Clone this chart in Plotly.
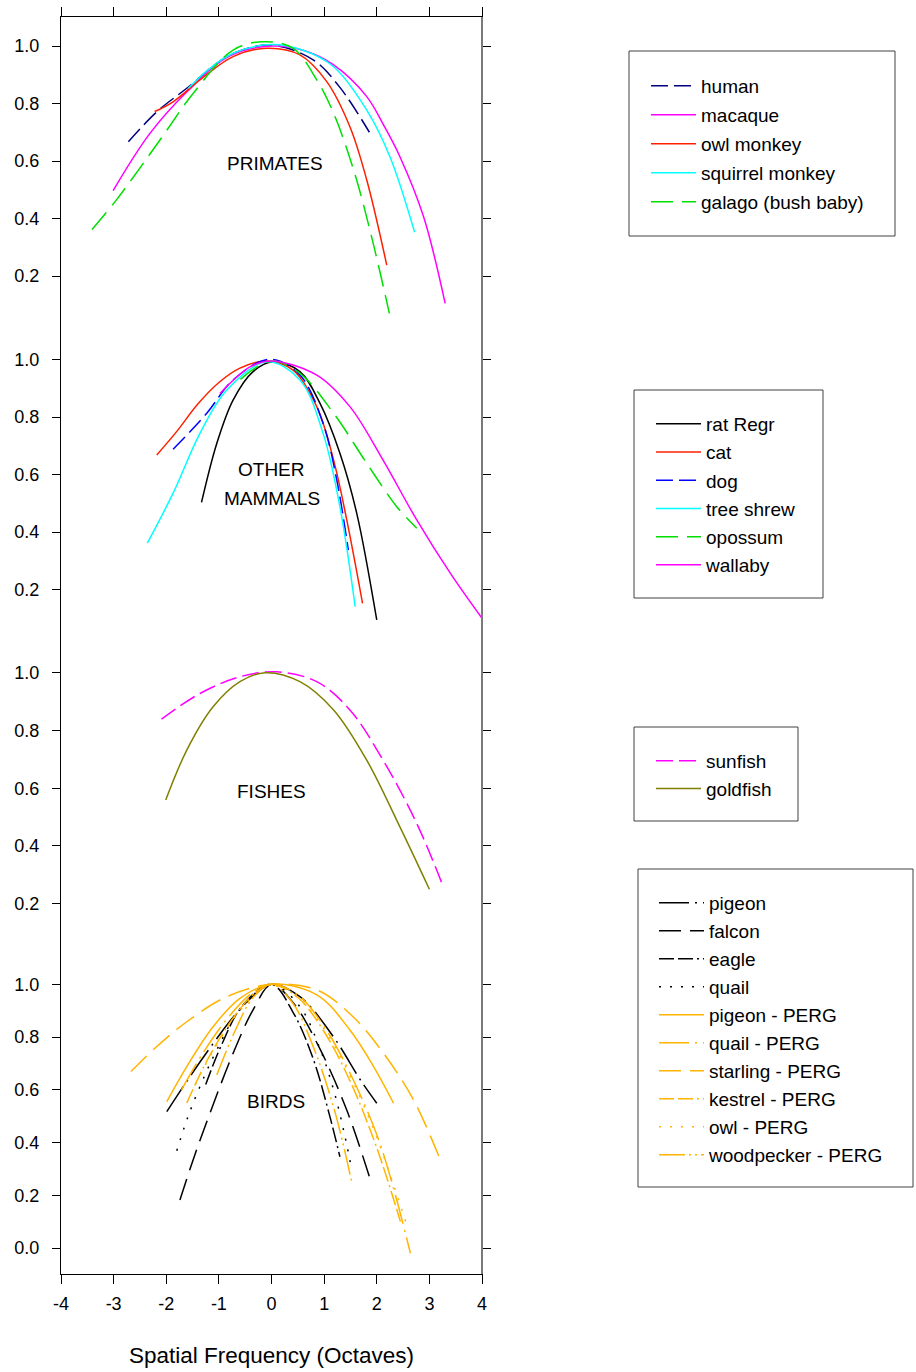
import plotly.graph_objects as go

# ---------------------------------------------------------------- data
# Normalised tuning curves (response vs. spatial frequency in octaves)

# Primates
human_x = [-2.72, -2.18, -1.61, -0.79, 0.0, 0.80, 1.30, 1.86]
human_y = [0.667, 0.771, 0.853, 0.969, 1.003, 0.951, 0.856, 0.700]
macaque_x = [-3.01, -2.31, -1.61, -0.80, 0.0, 0.60, 1.18, 1.81, 2.13, 2.44, 2.89, 3.30]
macaque_y = [0.497, 0.696, 0.840, 0.965, 1.0, 0.985, 0.934, 0.824, 0.725, 0.615, 0.406, 0.105]
owl_monkey_x = [-2.22, -1.87, -1.36, -0.73, -0.09, 0.54, 1.05, 1.49, 1.81, 2.19]
owl_monkey_y = [0.772, 0.806, 0.882, 0.963, 0.992, 0.969, 0.876, 0.719, 0.534, 0.238]
squirrel_monkey_x = [-1.58, -1.20, -0.73, 0.0, 0.60, 1.18, 1.81, 2.25, 2.72]
squirrel_monkey_y = [0.853, 0.918, 0.975, 1.005, 0.985, 0.928, 0.777, 0.615, 0.352]
galago_x = [-3.41, -2.95, -2.12, -1.49, -0.73, -0.16, 0.41, 0.86, 1.18, 1.56, 1.87, 2.24]
galago_y = [0.362, 0.464, 0.673, 0.835, 0.986, 1.015, 0.992, 0.882, 0.766, 0.569, 0.360, 0.070]

# Other mammals
rat_x = [-1.33, -1.04, -0.73, -0.35, 0.03, 0.54, 0.92, 1.30, 1.62, 2.00]
rat_y = [0.503, 0.708, 0.859, 0.958, 0.992, 0.958, 0.848, 0.674, 0.465, 0.094]
cat_x = [-2.18, -1.80, -1.40, -1.00, -0.60, -0.09, 0.41, 0.86, 1.18, 1.43, 1.73]
cat_y = [0.668, 0.750, 0.845, 0.920, 0.970, 0.995, 0.963, 0.836, 0.650, 0.442, 0.152]
dog_x = [-1.87, -1.23, -0.73, -0.03, 0.54, 0.98, 1.24, 1.46]
dog_y = [0.688, 0.813, 0.929, 1.001, 0.946, 0.778, 0.581, 0.337]
tree_shrew_x = [-2.36, -1.87, -1.36, -0.85, -0.09, 0.54, 0.98, 1.30, 1.59]
tree_shrew_y = [0.361, 0.535, 0.743, 0.894, 0.992, 0.929, 0.743, 0.488, 0.140]
opossum_x = [-0.59, 0.0, 0.54, 1.18, 1.81, 2.38, 2.76]
opossum_y = [0.931, 0.995, 0.952, 0.813, 0.639, 0.488, 0.413]
wallaby_x = [-0.98, -0.40, 0.0, 0.86, 1.49, 2.12, 2.76, 3.40, 4.00]
wallaby_y = [0.882, 0.975, 0.995, 0.946, 0.836, 0.650, 0.442, 0.256, 0.100]

# Fishes
sunfish_x = [-2.09, -1.36, -0.60, 0.10, 0.86, 1.49, 2.12, 2.76, 3.24]
sunfish_y = [0.839, 0.928, 0.986, 1.003, 0.969, 0.871, 0.697, 0.478, 0.270]
goldfish_x = [-2.01, -1.61, -1.11, -0.60, -0.12, 0.54, 1.18, 1.81, 2.44, 3.00]
goldfish_y = [0.559, 0.732, 0.882, 0.969, 1.0, 0.969, 0.871, 0.697, 0.466, 0.250]

# Birds
pigeon_x = [-1.99, -1.55, -1.11, -0.73, -0.35, 0.0, 0.54, 1.18, 1.69, 2.00]
pigeon_y = [0.517, 0.650, 0.775, 0.875, 0.955, 1.0, 0.953, 0.800, 0.637, 0.549]
falcon_x = [-1.74, -1.49, -1.17, -0.73, -0.35, 0.0, 0.42, 0.93, 1.43, 1.91]
falcon_y = [0.182, 0.334, 0.511, 0.738, 0.903, 1.0, 0.928, 0.751, 0.523, 0.239]
eagle_x = [-1.25, -0.95, -0.55, 0.0, 0.42, 0.80, 1.11, 1.30]
eagle_y = [0.620, 0.770, 0.920, 1.0, 0.890, 0.713, 0.498, 0.346]
quail_x = [-1.80, -1.61, -1.36, -1.04, -0.60, 0.0, 0.54, 0.93, 1.18, 1.37, 1.52]
quail_y = [0.369, 0.485, 0.612, 0.751, 0.903, 1.0, 0.915, 0.751, 0.600, 0.447, 0.302]
pigeon_perg_x = [-1.99, -1.61, -1.11, -0.60, 0.0, 0.86, 1.49, 1.94, 2.32]
pigeon_perg_y = [0.555, 0.688, 0.839, 0.947, 1.0, 0.960, 0.827, 0.688, 0.549]
quail_perg_x = [-1.71, -1.30, -0.80, -0.35, 0.0, 0.50, 1.00, 1.50, 2.00, 2.30, 2.64]
quail_perg_y = [0.600, 0.740, 0.880, 0.970, 1.0, 0.960, 0.840, 0.660, 0.430, 0.240, -0.020]
starling_perg_x = [-2.67, -2.18, -1.61, -0.85, 0.0, 0.86, 1.55, 2.13, 2.70, 3.20]
starling_perg_y = [0.669, 0.764, 0.858, 0.953, 1.0, 0.979, 0.877, 0.738, 0.561, 0.338]
kestrel_perg_x = [-1.61, -1.20, -0.70, -0.30, 0.0, 0.50, 1.00, 1.50, 2.00, 2.45]
kestrel_perg_y = [0.550, 0.720, 0.880, 0.970, 1.0, 0.950, 0.820, 0.630, 0.380, 0.100]
owl_perg_x = [-1.45, -1.10, -0.60, 0.0, 0.50, 1.00, 1.50, 2.00, 2.55]
owl_perg_y = [0.620, 0.750, 0.900, 1.0, 0.950, 0.830, 0.650, 0.420, 0.100]
woodpecker_perg_x = [-1.04, -0.70, -0.35, 0.0, 0.40, 0.80, 1.20, 1.53]
woodpecker_perg_y = [0.656, 0.820, 0.950, 1.0, 0.930, 0.760, 0.520, 0.245]

# Axis ticks
x_tick_values = [-4, -3, -2, -1, 0, 1, 2, 3, 4]
x_tick_labels = ["-4", "-3", "-2", "-1", "0", "1", "2", "3", "4"]
y_tick_values = [0.2, 0.4, 0.6, 0.8, 1.0]
y_tick_labels = ["0.2", "0.4", "0.6", "0.8", "1.0"]
bird_tick_values = [0.0, 0.2, 0.4, 0.6, 0.8, 1.0]
bird_tick_labels = ["0.0", "0.2", "0.4", "0.6", "0.8", "1.0"]

panel_titles = ["PRIMATES", "OTHER", "MAMMALS", "FISHES", "BIRDS"]

# ---------------------------------------------------------------- styles
FONT = "Arial, Liberation Sans, sans-serif"
NAVY, BLUE, RED, MAGENTA = "#000080", "#0000FF", "#FF2000", "#FF00FF"
CYAN, GREEN, OLIVE, BLACK, AMBER = "#00FFFF", "#00E000", "#808000", "#000000", "#FFB400"

D_MED = "17px,6px"                              # medium dashes
D_LONG = "22px,9px"                             # long dashes
D_LDOT = "30px,6px,2px,6px"                     # long dash + dot
D_LLDOT = "15px,4px,15px,4px,2px,4px"           # dash dash dot
D_DOTS = "2px,9px"                              # dotted
D_LDOTDOT = "26px,4px,2px,4px,2px,4px"          # dash dot dot

series = [
    # name, x, y, colour, dash, y-axis, legend
    ("human", human_x, human_y, NAVY, D_MED, "y", "legend"),
    ("macaque", macaque_x, macaque_y, MAGENTA, "solid", "y", "legend"),
    ("owl monkey", owl_monkey_x, owl_monkey_y, RED, "solid", "y", "legend"),
    ("squirrel monkey", squirrel_monkey_x, squirrel_monkey_y, CYAN, "solid", "y", "legend"),
    ("galago (bush baby)", galago_x, galago_y, GREEN, D_LONG, "y", "legend"),
    ("rat Regr", rat_x, rat_y, BLACK, "solid", "y2", "legend2"),
    ("cat", cat_x, cat_y, RED, "solid", "y2", "legend2"),
    ("dog", dog_x, dog_y, BLUE, D_MED, "y2", "legend2"),
    ("tree shrew", tree_shrew_x, tree_shrew_y, CYAN, "solid", "y2", "legend2"),
    ("opossum", opossum_x, opossum_y, GREEN, D_LONG, "y2", "legend2"),
    ("wallaby", wallaby_x, wallaby_y, MAGENTA, "solid", "y2", "legend2"),
    ("sunfish", sunfish_x, sunfish_y, MAGENTA, D_MED, "y3", "legend3"),
    ("goldfish", goldfish_x, goldfish_y, OLIVE, "solid", "y3", "legend3"),
    ("pigeon", pigeon_x, pigeon_y, BLACK, D_LDOT, "y4", "legend4"),
    ("falcon", falcon_x, falcon_y, BLACK, D_LONG, "y4", "legend4"),
    ("eagle", eagle_x, eagle_y, BLACK, D_LLDOT, "y4", "legend4"),
    ("quail", quail_x, quail_y, BLACK, D_DOTS, "y4", "legend4"),
    ("pigeon - PERG", pigeon_perg_x, pigeon_perg_y, AMBER, "solid", "y4", "legend4"),
    ("quail - PERG", quail_perg_x, quail_perg_y, AMBER, D_LDOT, "y4", "legend4"),
    ("starling - PERG", starling_perg_x, starling_perg_y, AMBER, D_LONG, "y4", "legend4"),
    ("kestrel - PERG", kestrel_perg_x, kestrel_perg_y, AMBER, D_LLDOT, "y4", "legend4"),
    ("owl - PERG", owl_perg_x, owl_perg_y, AMBER, D_DOTS, "y4", "legend4"),
    ("woodpecker - PERG", woodpecker_perg_x, woodpecker_perg_y, AMBER, D_LDOTDOT, "y4", "legend4"),
]

# ---------------------------------------------------------------- geometry
W, H = 916, 1372
PL, PR, PT, PB = 61, 482, 17, 1274   # plot area in page pixels


def ypap(py):
    return (PB - py) / (PB - PT)


def xpap(px):
    return (px - PL) / (PR - PL)


# axis id, pixel row of value 1.0, pixels per unit, domain top/bottom (px), ticks
panels = [
    ("yaxis", 46.0, 287.5, PT, 330, y_tick_values, y_tick_labels),
    ("yaxis2", 359.5, 287.5, 330, 645, y_tick_values, y_tick_labels),
    ("yaxis3", 672.7, 288.75, 645, 950, y_tick_values, y_tick_labels),
    ("yaxis4", 984.3, 263.7, 950, PB, bird_tick_values, bird_tick_labels),
]

fig = go.Figure()

for name, xs, ys, colour, dash, yax, leg in series:
    fig.add_trace(go.Scatter(
        x=xs, y=ys, name=name, mode="lines", yaxis=yax, xaxis="x",
        line=dict(color=colour, width=1.5, dash=dash, shape="spline", smoothing=1.0),
        legend=leg, legendgroup=name,
    ))

# carrier for the top tick row
fig.add_trace(go.Scatter(x=[None], y=[None], xaxis="x2", yaxis="y",
                         showlegend=False, hoverinfo="skip"))

layout = dict(
    width=W, height=H,
    margin=dict(l=PL, r=W - PR, t=PT, b=H - PB, autoexpand=False),
    paper_bgcolor="white", plot_bgcolor="white",
    font=dict(family=FONT, color="black", size=18),
    showlegend=True,
)

for ax, v1, ppu, dtop, dbot, tv, tt in panels:
    layout[ax] = dict(
        domain=[ypap(dbot), ypap(dtop)],
        range=[1 - (dbot - v1) / ppu, 1 + (v1 - dtop) / ppu],
        anchor="x", tickvals=tv, ticktext=tt,
        ticks="outside", ticklen=8, tickwidth=1, tickcolor="black",
        showline=True, linecolor="black", linewidth=1, mirror="ticks",
        showgrid=False, zeroline=False, automargin=False,
        tickfont=dict(size=18, color="black"), ticklabelstandoff=9,
    )

layout["xaxis"] = dict(
    domain=[0, 1], range=[-4, 4], anchor="y4",
    tickvals=x_tick_values, ticktext=x_tick_labels,
    ticks="outside", ticklen=9, tickwidth=1, tickcolor="black",
    showline=True, linecolor="black", linewidth=1,
    showgrid=False, zeroline=False, automargin=False,
    tickfont=dict(size=18, color="black"), ticklabelstandoff=4,
    title=dict(text="Spatial Frequency (Octaves)", font=dict(size=22.5), standoff=34),
)
layout["xaxis2"] = dict(
    domain=[0, 1], range=[-4, 4], anchor="y", side="top", overlaying="x",
    matches="x", tickvals=x_tick_values, showticklabels=False,
    ticks="outside", ticklen=9, tickwidth=1, tickcolor="black",
    showline=True, linecolor="black", linewidth=1,
    showgrid=False, zeroline=False, automargin=False,
)

# legends: (id, left px, top px, group gap)
legend_spots = [("legend", 646, 67, 1.3), ("legend2", 651, 405, 0.5),
                ("legend3", 651, 742, 0.0), ("legend4", 654, 884, 0.3)]
for lid, lx, ly, gap in legend_spots:
    layout[lid] = dict(
        x=xpap(lx), y=ypap(ly), xanchor="left", yanchor="top",
        bgcolor="rgba(0,0,0,0)", borderwidth=0, itemwidth=45,
        tracegroupgap=gap, font=dict(size=19, color="black", family=FONT),
    )

# legend frames (page pixels: left, right, top, bottom)
legend_frames = [(629, 895, 51, 236), (634, 823, 390, 598),
                 (634, 798, 727, 821), (638, 913, 869, 1187)]
shapes = []
for x0, x1, y0, y1 in legend_frames:
    shapes.append(dict(type="rect", xref="paper", yref="paper",
                       x0=xpap(x0), x1=xpap(x1), y0=ypap(y1), y1=ypap(y0),
                       line=dict(color="#404040", width=1)))
# heavier right-hand frame edge
shapes.append(dict(type="line", xref="paper", yref="paper", x0=1, x1=1, y0=0, y1=1,
                   line=dict(color="#7a7a7a", width=2)))
layout["shapes"] = shapes

# panel captions: text, x, y, y-axis
captions = [(panel_titles[0], 0.06, 0.59, "y"), (panel_titles[1], 0.0, 0.616, "y2"),
            (panel_titles[2], 0.0, 0.515, "y2"), (panel_titles[3], 0.0, 0.59, "y3"),
            (panel_titles[4], 0.09, 0.554, "y4")]
layout["annotations"] = [
    dict(text=t, x=cx, y=cy, xref="x", yref=yr, showarrow=False,
         font=dict(size=19, color="black"), xanchor="center", yanchor="middle")
    for t, cx, cy, yr in captions
]

fig.update_layout(**layout)
fig.write_html("out.html")
